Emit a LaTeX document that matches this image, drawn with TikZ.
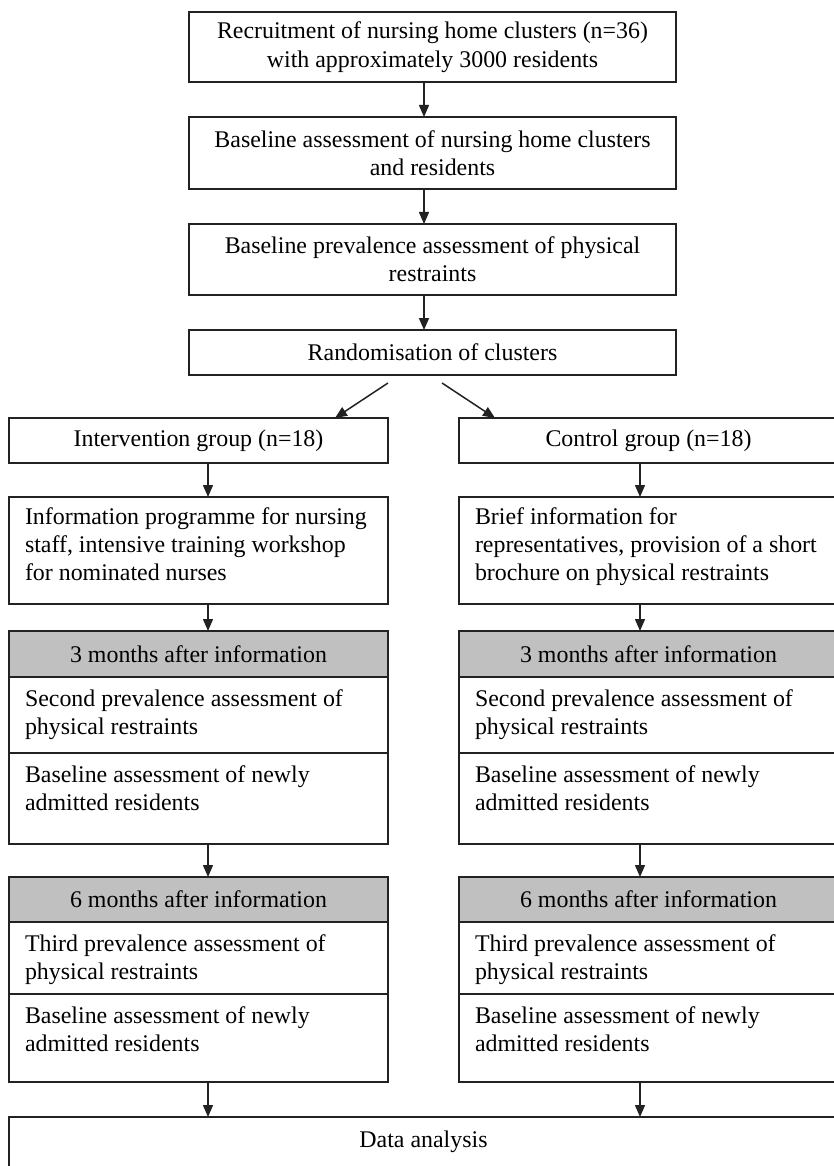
\documentclass[tikz,border=0pt]{standalone}
\usepackage{fontspec}
\setmainfont{Liberation Serif}
\usetikzlibrary{arrows.meta,calc}
\definecolor{linec}{HTML}{222222}
\definecolor{headgray}{HTML}{C0C0C0}
\begin{document}
\begin{tikzpicture}[x=1pt,y=-1pt,
  every node/.style={font=\fontsize{23.9}{28.4}\selectfont, inner sep=0pt, outer sep=0pt},
  box/.style={draw=linec, line width=1.5pt, rectangle, fill=white},
  head/.style={box, fill=headgray},
  lbl/.style={anchor=base west, align=left},
  arr/.style={draw=linec, line width=1.5pt, -{Triangle[width=10pt,length=12pt]}}]
\useasboundingbox (0,0) rectangle (833,1166);
% top column
\node[box, minimum width=487, minimum height=70, align=center] (recr) at (432.5,47) {Recruitment of nursing home clusters (n=36)\\with approximately 3000 residents};
\node[box, minimum width=487, minimum height=72, align=center] (base) at (432.5,153) {Baseline assessment of nursing home clusters\\and residents};
\node[box, minimum width=487, minimum height=71, align=center] (prev) at (432.5,259.5) {Baseline prevalence assessment of physical\\restraints};
\node[box, minimum width=487, minimum height=45] (rand) at (432.5,352.5) {Randomisation of clusters};
% groups
\node[box, minimum width=379, minimum height=45] (int) at (198.5,440.5) {Intervention group (n=18)};
\node[box, minimum width=379, minimum height=45] (ctl) at (648.5,440.5) {Control group (n=18)};
% information (base anchor of a multi-line label = baseline of its last line)
\node[box, minimum width=379, minimum height=107] (infL) at (198.5,550.5) {};
\node[lbl] (infLt) at (25,580.8) {Information programme for nursing\\staff, intensive training workshop\\for nominated nurses};
\node[box, minimum width=379, minimum height=107] (infR) at (648.5,550.5) {};
\node[lbl] (infRt) at (475,580.8) {Brief information for\\representatives, provision of a short\\brochure on physical restraints};
% 3 months
\node[head, minimum width=379, minimum height=46] (h3L) at (198.5,654) {3 months after information};
\node[box, minimum width=379, minimum height=76] (aL) at (198.5,715) {};
\node[lbl] (aLt) at (25,734.4) {Second prevalence assessment of\\physical restraints};
\node[box, minimum width=379, minimum height=91] (bL) at (198.5,798.5) {};
\node[lbl] (bLt) at (25,810.4) {Baseline assessment of newly\\admitted residents};
\node[head, minimum width=379, minimum height=46] (h3R) at (648.5,654) {3 months after information};
\node[box, minimum width=379, minimum height=76] (aR) at (648.5,715) {};
\node[lbl] (aRt) at (475,734.4) {Second prevalence assessment of\\physical restraints};
\node[box, minimum width=379, minimum height=91] (bR) at (648.5,798.5) {};
\node[lbl] (bRt) at (475,810.4) {Baseline assessment of newly\\admitted residents};
% 6 months
\node[head, minimum width=379, minimum height=45] (h6L) at (198.5,899.5) {6 months after information};
\node[box, minimum width=379, minimum height=72] (cL) at (198.5,958) {};
\node[lbl] (cLt) at (25,979.4) {Third prevalence assessment of\\physical restraints};
\node[box, minimum width=379, minimum height=88] (dL) at (198.5,1038) {};
\node[lbl] (dLt) at (25,1051.4) {Baseline assessment of newly\\admitted residents};
\node[head, minimum width=379, minimum height=45] (h6R) at (648.5,899.5) {6 months after information};
\node[box, minimum width=379, minimum height=72] (cR) at (648.5,958) {};
\node[lbl] (cRt) at (475,979.4) {Third prevalence assessment of\\physical restraints};
\node[box, minimum width=379, minimum height=88] (dR) at (648.5,1038) {};
\node[lbl] (dRt) at (475,1051.4) {Baseline assessment of newly\\admitted residents};
% data analysis
\node[box, minimum width=829, minimum height=103] (data) at (423.5,1168.5) {};
\node (datat) at (423.5,1142) {Data analysis};
% arrow positions
\coordinate (cx) at (424,0);
\coordinate (lx) at (208,0);
\coordinate (rx) at (640,0);
\coordinate (dl1) at (388,383);
\coordinate (dl2) at (335,0);
\coordinate (dr1) at (442,383);
\coordinate (dr2) at (495,0);
\draw[arr] (recr.south -| cx) -- (base.north -| cx);
\draw[arr] (base.south -| cx) -- (prev.north -| cx);
\draw[arr] (prev.south -| cx) -- (rand.north -| cx);
\draw[arr] (dl1) -- (int.north -| dl2);
\draw[arr] (dr1) -- (ctl.north -| dr2);
\draw[arr] (int.south -| lx) -- (infL.north -| lx);
\draw[arr] (ctl.south -| rx) -- (infR.north -| rx);
\draw[arr] (infL.south -| lx) -- (h3L.north -| lx);
\draw[arr] (infR.south -| rx) -- (h3R.north -| rx);
\draw[arr] (bL.south -| lx) -- (h6L.north -| lx);
\draw[arr] (bR.south -| rx) -- (h6R.north -| rx);
\draw[arr] (dL.south -| lx) -- (data.north -| lx);
\draw[arr] (dR.south -| rx) -- (data.north -| rx);
\end{tikzpicture}
\end{document}
